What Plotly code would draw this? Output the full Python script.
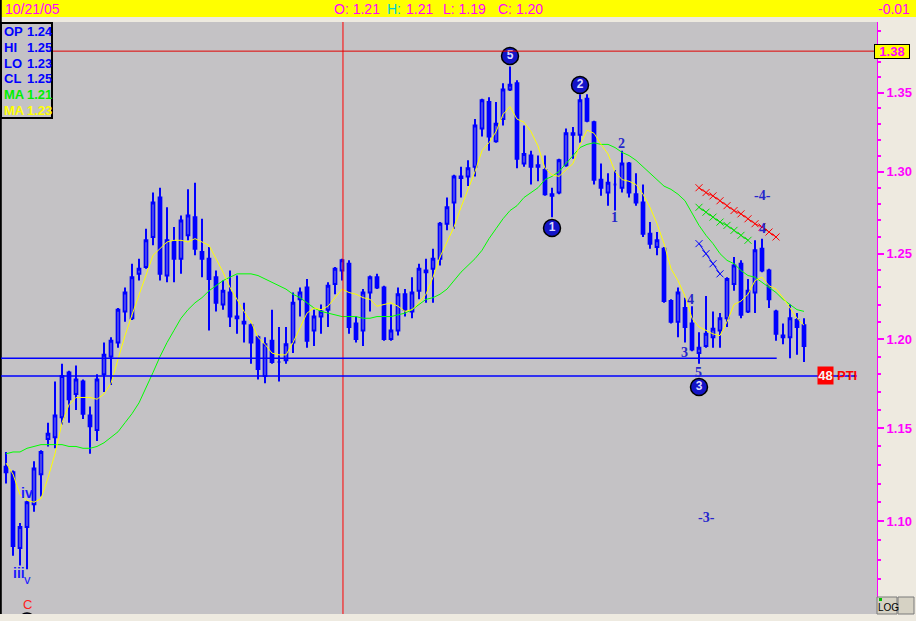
import math
import plotly.graph_objects as go

# ---------------- data ----------------
session_date = "10/21/05"

opens = [1.129, 1.126, 1.086, 1.097, 1.109, 1.125, 1.144, 1.145, 1.156, 1.181,
         1.169, 1.176, 1.157, 1.149, 1.180, 1.190, 1.198, 1.216, 1.212, 1.238,
         1.242, 1.260, 1.284, 1.237, 1.257, 1.247, 1.261, 1.272, 1.251, 1.247,
         1.236, 1.220, 1.227, 1.212, 1.210, 1.208, 1.201, 1.179, 1.199, 1.187,
         1.188, 1.198, 1.223, 1.230, 1.205, 1.213, 1.217, 1.232, 1.240, 1.244,
         1.209, 1.205, 1.227, 1.236, 1.230, 1.200, 1.205, 1.226, 1.216, 1.228,
         1.240, 1.241, 1.247, 1.268, 1.281, 1.296, 1.297, 1.303, 1.327, 1.344,
         1.319, 1.333, 1.352, 1.356, 1.305, 1.310, 1.304, 1.301, 1.285, 1.287,
         1.304, 1.323, 1.323, 1.346, 1.331, 1.295, 1.287, 1.292, 1.290, 1.305,
         1.286, 1.281, 1.262, 1.254, 1.253, 1.222, 1.210, 1.218, 1.209, 1.192,
         1.196, 1.201, 1.205, 1.212, 1.232, 1.244, 1.216, 1.227, 1.253, 1.240,
         1.216, 1.202, 1.201, 1.211, 1.208]

highs = [1.137, 1.127, 1.099, 1.111, 1.132, 1.138, 1.153, 1.176, 1.186, 1.182,
         1.185, 1.177, 1.162, 1.180, 1.198, 1.201, 1.218, 1.230, 1.244, 1.247,
         1.265, 1.287, 1.290, 1.278, 1.266, 1.273, 1.289, 1.293, 1.271, 1.254,
         1.240, 1.234, 1.240, 1.237, 1.221, 1.209, 1.202, 1.201, 1.217, 1.207,
         1.207, 1.227, 1.230, 1.235, 1.217, 1.220, 1.233, 1.242, 1.247, 1.246,
         1.213, 1.229, 1.237, 1.238, 1.231, 1.220, 1.230, 1.229, 1.236, 1.244,
         1.247, 1.253, 1.269, 1.284, 1.298, 1.303, 1.307, 1.333, 1.346, 1.347,
         1.344, 1.356, 1.367, 1.358, 1.329, 1.313, 1.310, 1.310, 1.290, 1.308,
         1.327, 1.328, 1.349, 1.349, 1.332, 1.305, 1.299, 1.301, 1.313, 1.306,
         1.299, 1.292, 1.269, 1.263, 1.254, 1.223, 1.230, 1.224, 1.219, 1.204,
         1.225, 1.216, 1.215, 1.236, 1.248, 1.246, 1.235, 1.258, 1.259, 1.241,
         1.217, 1.209, 1.220, 1.215, 1.212]

lows = [1.120, 1.082, 1.077, 1.075, 1.105, 1.113, 1.140, 1.139, 1.152, 1.153,
        1.160, 1.155, 1.136, 1.143, 1.170, 1.174, 1.195, 1.210, 1.211, 1.234,
        1.241, 1.255, 1.234, 1.233, 1.233, 1.238, 1.258, 1.249, 1.236, 1.205,
        1.216, 1.217, 1.207, 1.203, 1.198, 1.186, 1.177, 1.175, 1.186, 1.176,
        1.186, 1.192, 1.213, 1.195, 1.196, 1.203, 1.207, 1.226, 1.234, 1.203,
        1.198, 1.196, 1.216, 1.229, 1.199, 1.199, 1.202, 1.213, 1.212, 1.223,
        1.221, 1.221, 1.243, 1.264, 1.265, 1.284, 1.291, 1.297, 1.322, 1.313,
        1.318, 1.329, 1.351, 1.302, 1.303, 1.292, 1.294, 1.285, 1.272, 1.286,
        1.303, 1.308, 1.318, 1.331, 1.292, 1.285, 1.279, 1.276, 1.287, 1.284,
        1.279, 1.260, 1.253, 1.249, 1.221, 1.209, 1.201, 1.198, 1.193, 1.186,
        1.195, 1.195, 1.195, 1.207, 1.228, 1.212, 1.215, 1.215, 1.239, 1.218,
        1.199, 1.197, 1.189, 1.191, 1.187]

closes = [1.126, 1.087, 1.097, 1.110, 1.128, 1.137, 1.147, 1.157, 1.179, 1.166,
          1.177, 1.158, 1.151, 1.177, 1.191, 1.199, 1.217, 1.227, 1.236, 1.241,
          1.258, 1.281, 1.238, 1.258, 1.247, 1.270, 1.273, 1.253, 1.247, 1.235,
          1.221, 1.228, 1.213, 1.213, 1.209, 1.198, 1.183, 1.197, 1.187, 1.187,
          1.197, 1.221, 1.227, 1.199, 1.213, 1.216, 1.231, 1.241, 1.246, 1.207,
          1.200, 1.227, 1.236, 1.230, 1.200, 1.205, 1.226, 1.217, 1.227, 1.241,
          1.239, 1.247, 1.268, 1.278, 1.297, 1.297, 1.302, 1.329, 1.345, 1.322,
          1.330, 1.352, 1.355, 1.308, 1.311, 1.303, 1.303, 1.286, 1.286, 1.307,
          1.324, 1.324, 1.345, 1.332, 1.295, 1.290, 1.293, 1.292, 1.305, 1.287,
          1.281, 1.262, 1.256, 1.258, 1.222, 1.210, 1.227, 1.207, 1.194, 1.195,
          1.203, 1.206, 1.212, 1.235, 1.243, 1.214, 1.228, 1.252, 1.240, 1.223,
          1.203, 1.201, 1.212, 1.207, 1.196]

ma_fast = [1.131, 1.125, 1.114, 1.111, 1.110, 1.112, 1.123, 1.136, 1.153, 1.163,
           1.167, 1.167, 1.167, 1.166, 1.169, 1.175, 1.189, 1.202, 1.214, 1.226,
           1.238, 1.249, 1.253, 1.257, 1.258, 1.258, 1.257, 1.259, 1.257, 1.255,
           1.247, 1.239, 1.230, 1.223, 1.216, 1.210, 1.201, 1.197, 1.192, 1.191,
           1.191, 1.198, 1.206, 1.215, 1.218, 1.217, 1.219, 1.224, 1.229, 1.227,
           1.226, 1.224, 1.223, 1.219, 1.220, 1.221, 1.219, 1.216, 1.217, 1.221,
           1.226, 1.236, 1.248, 1.257, 1.266, 1.278, 1.289, 1.300, 1.313, 1.318,
           1.325, 1.336, 1.341, 1.333, 1.331, 1.325, 1.316, 1.302, 1.298, 1.297,
           1.301, 1.305, 1.317, 1.326, 1.324, 1.317, 1.311, 1.300, 1.295, 1.294,
           1.292, 1.286, 1.278, 1.268, 1.256, 1.241, 1.234, 1.225, 1.212, 1.207,
           1.205, 1.203, 1.202, 1.210, 1.220, 1.222, 1.226, 1.234, 1.236, 1.231,
           1.229, 1.224, 1.218, 1.212, 1.208]

ma_slow = [1.136, 1.137, 1.137, 1.139, 1.140, 1.141, 1.141, 1.141, 1.141, 1.140,
           1.140, 1.139, 1.139, 1.140, 1.142, 1.145, 1.148, 1.153, 1.158, 1.164,
           1.172, 1.181, 1.190, 1.198, 1.205, 1.212, 1.217, 1.221, 1.224, 1.228,
           1.231, 1.234, 1.236, 1.238, 1.238, 1.238, 1.237, 1.235, 1.233, 1.231,
           1.229, 1.226, 1.224, 1.221, 1.218, 1.216, 1.215, 1.214, 1.213, 1.213,
           1.213, 1.212, 1.212, 1.213, 1.213, 1.213, 1.214, 1.215, 1.217, 1.220,
           1.223, 1.224, 1.226, 1.229, 1.234, 1.239, 1.243, 1.247, 1.252, 1.259,
           1.265, 1.271, 1.276, 1.279, 1.284, 1.287, 1.290, 1.295, 1.297, 1.300,
           1.305, 1.310, 1.315, 1.317, 1.318, 1.317, 1.317, 1.315, 1.312, 1.310,
           1.307, 1.303, 1.299, 1.295, 1.291, 1.289, 1.286, 1.282, 1.274, 1.267,
           1.261, 1.256, 1.250, 1.246, 1.244, 1.240, 1.237, 1.236, 1.233, 1.230,
           1.227, 1.223, 1.220, 1.217, 1.216]

tick_values = [1.10, 1.15, 1.20, 1.25, 1.30, 1.35]
tick_labels = ["1.10", "1.15", "1.20", "1.25", "1.30", "1.35"]
minor_tick_values = [1.06, 1.07, 1.08, 1.09, 1.11, 1.12, 1.13, 1.14, 1.16, 1.17,
                     1.18, 1.19, 1.21, 1.22, 1.23, 1.24, 1.26, 1.27, 1.28, 1.29,
                     1.31, 1.32, 1.33, 1.34, 1.36, 1.37, 1.38, 1.39]

resistance_level = 1.377
support_upper = 1.189
support_lower = 1.179
cursor_index = 48

fan_red_idx = [99, 100, 101, 102, 103, 104, 105, 106, 107, 108, 109, 110]
fan_red_val = [1.290, 1.287, 1.285, 1.282, 1.279, 1.276, 1.274, 1.271, 1.268, 1.266, 1.263, 1.260]
fan_green_idx = [99, 100, 101, 102, 103, 104, 105, 106]
fan_green_val = [1.278, 1.275, 1.272, 1.269, 1.267, 1.264, 1.261, 1.258]
fan_blue_idx = [99, 100, 101, 102]
fan_blue_val = [1.256, 1.250, 1.244, 1.238]

bar_index = list(range(len(closes)))

# ---------------- geometry helpers ----------------
W, H = 916, 621
LM, RM, TM, BM = 1, 39, 22, 7
PW = W - LM - RM
PH = H - TM - BM
Y_TOP, Y_BOT = 1.3963, 1.0523
LT, LB = math.log10(Y_TOP), math.log10(Y_BOT)
X0 = -5 / 7
X1 = X0 + PW / 7


def xp(px):
    return (px - LM) / PW


def yp(py):
    return (H - BM - py) / PH


def price_at(py):
    return 10 ** (LT - (py - TM) / PH * (LT - LB))


def idx_at(px):
    return X0 + (px - LM) / 7


PLOT_BG = "#c4c2c5"
PAPER_BG = "#eeeae0"
BLUE = "#0000ff"
MAGENTA = "#ff00ff"
SANS = "Liberation Sans, Arial, sans-serif"
SERIF = "Liberation Serif, Times New Roman, serif"

fig = go.Figure()

fig.add_trace(go.Scatter(x=bar_index, y=ma_slow, mode="lines",
                         line=dict(color="#00ff00", width=1), hoverinfo="skip"))
fig.add_trace(go.Scatter(x=bar_index, y=ma_fast, mode="lines",
                         line=dict(color="#ffff00", width=1), hoverinfo="skip"))

fig.add_trace(go.Candlestick(
    x=bar_index, open=opens, high=highs, low=lows, close=closes,
    increasing=dict(line=dict(color=BLUE, width=2), fillcolor=PLOT_BG),
    decreasing=dict(line=dict(color=BLUE, width=2), fillcolor=BLUE),
    whiskerwidth=0, hoverinfo="skip"))

for xs, ys, col in [(fan_red_idx, fan_red_val, "#ff0000"),
                    (fan_green_idx, fan_green_val, "#00e000"),
                    (fan_blue_idx, fan_blue_val, "#0000ff")]:
    fig.add_trace(go.Scatter(x=xs, y=ys, mode="lines+markers",
                             line=dict(color=col, width=1),
                             marker=dict(symbol="x-thin", size=7, color=col,
                                         line=dict(color=col, width=1)),
                             hoverinfo="skip"))

# wave circles
fig.add_trace(go.Scatter(
    x=[idx_at(510), idx_at(580), idx_at(552), idx_at(699)],
    y=[price_at(56), price_at(85), price_at(228), price_at(387)],
    mode="markers+text", text=["5", "2", "1", "3"], textposition="middle center",
    marker=dict(size=17, color="#1414c8", line=dict(color="black", width=1.5)),
    textfont=dict(color="#dcdcff", size=12, family=SANS, weight="bold"),
    hoverinfo="skip"))
# partially hidden marker under "C"
fig.add_trace(go.Scatter(
    x=[idx_at(27)], y=[price_at(621)], mode="markers",
    marker=dict(size=16, color="#1414c8", line=dict(color="black", width=1.5)),
    cliponaxis=True, hoverinfo="skip"))

shapes = [
    # header bar
    dict(type="rect", xref="paper", yref="paper", x0=xp(0), x1=xp(W), y0=yp(17), y1=yp(0),
         fillcolor="#ffff00", line=dict(width=0), layer="above"),
    dict(type="line", xref="paper", yref="paper", x0=xp(0.8), x1=xp(0.8), y0=yp(614), y1=yp(0),
         line=dict(color="black", width=2), layer="above"),
    # cursor and level lines
    dict(type="line", xref="x", yref="paper", x0=cursor_index + 0.14, x1=cursor_index + 0.14, y0=0, y1=1,
         line=dict(color="#ff0000", width=1), layer="above"),
    dict(type="line", xref="paper", yref="y", x0=0, x1=1, y0=resistance_level, y1=resistance_level,
         line=dict(color="#e00000", width=1), layer="above"),
    dict(type="line", xref="x", yref="y", x0=X0, x1=110.1, y0=support_upper, y1=support_upper,
         line=dict(color=BLUE, width=1.5), layer="above"),
    dict(type="line", xref="paper", yref="y", x0=0, x1=xp(857), y0=support_lower, y1=support_lower,
         line=dict(color=BLUE, width=1.5), layer="above"),
    # info box
    dict(type="rect", xref="paper", yref="paper", x0=xp(1), x1=xp(52), y0=yp(118), y1=yp(23),
         fillcolor=PLOT_BG, line=dict(color="black", width=2), layer="above"),
    # LOG buttons
    dict(type="rect", xref="paper", yref="paper", x0=xp(877), x1=xp(897), y0=yp(614), y1=yp(597),
         fillcolor="#d6d2c4", line=dict(color="#7a7a7a", width=1), layer="above"),
    dict(type="rect", xref="paper", yref="paper", x0=xp(879), x1=xp(882), y0=yp(601), y1=yp(598),
         fillcolor="#00c000", line=dict(width=0), layer="above"),
    dict(type="rect", xref="paper", yref="paper", x0=xp(898), x1=xp(914), y0=yp(614), y1=yp(597),
         fillcolor="#d6d2c4", line=dict(color="#7a7a7a", width=1), layer="above"),
]

annotations = []


def label(text, px, py, color, size=13, family=SANS, bold=True, xanchor="center", **extra):
    d = dict(text=text, x=xp(px), y=yp(py), xref="paper", yref="paper",
             xanchor=xanchor, yanchor="middle", showarrow=False,
             font=dict(color=color, size=size, family=family,
                       weight="bold" if bold else "normal"))
    d.update(extra)
    annotations.append(d)


# header
last = len(closes) - 1
label(session_date, 3, 9, MAGENTA, size=14, bold=False, xanchor="left")
label(f"O: {opens[last]:.2f}", 332, 9, MAGENTA, size=14, bold=False, xanchor="left")
label("H:", 385, 9, "#00d0d0", size=14, bold=False, xanchor="left")
label(f"{highs[last]:.2f}", 404, 9, MAGENTA, size=14, bold=False, xanchor="left")
label(f"L: {lows[last]:.2f}", 441, 9, MAGENTA, size=14, bold=False, xanchor="left")
label(f"C: {closes[last]:.2f}", 496, 9, MAGENTA, size=14, bold=False, xanchor="left")
label(f"{closes[last] - closes[last - 1]:.2f}", 912, 9, MAGENTA, size=14, bold=False, xanchor="right")

# info box
c = cursor_index
rows = [("OP", opens[c], BLUE), ("HI", highs[c], BLUE), ("LO", lows[c], BLUE),
        ("CL", closes[c], BLUE), ("MA", ma_slow[c], "#00ee00"), ("MA", ma_fast[c], "#ffff00")]
for k, (name, val, col) in enumerate(rows):
    yy = 32 + k * 15.6
    label(name, 2, yy, col, xanchor="left")
    label(f"{val:.2f}", 25, yy, col, xanchor="left")

# wave labels
label("iv", 27, 493, "#1a1aff", size=14)
label("iii", 19, 573, "#1a1aff", size=14)
label("v", 27, 579, "#1a1aff", size=13, bold=False)
label("C", 27, 604, "#ff2020", size=13, bold=False)
for t, px, py in [("2", 621, 143), ("1", 614, 218), ("4", 690, 299), ("3", 684, 352),
                  ("5", 698, 372), ("-4-", 762, 195), ("4", 762, 228), ("-3-", 706, 517)]:
    label(t, px, py, "#2626cc", size=14, family=SERIF)

# level labels
label(f"{resistance_level:.2f}", 892, 51, MAGENTA, size=13, bgcolor="#ffff00",
      bordercolor="black", borderwidth=1, width=34, height=13, borderpad=0)
label(str(cursor_index), 825, 375, "#f4f4f4", size=13, bgcolor="#ff0000",
      width=15, height=17, borderpad=0)
label("PTI", 835, 375, "#ff0000", size=13, xanchor="left")
label("LOG", 888, 607, "#000000", size=10, bold=False)

fig.update_layout(
    width=W, height=H,
    margin=dict(l=LM, r=RM, t=TM, b=BM, pad=0),
    paper_bgcolor=PAPER_BG, plot_bgcolor=PLOT_BG,
    showlegend=False, boxgap=0.45,
    shapes=shapes, annotations=annotations,
    xaxis=dict(range=[X0, X1], showgrid=False, zeroline=False, showticklabels=False,
               ticks="", showline=False, rangeslider=dict(visible=False), fixedrange=True),
    yaxis=dict(type="log", range=[LB, LT], side="right",
               showgrid=False, zeroline=False, showline=True, linecolor=MAGENTA, linewidth=1,
               tickmode="array", tickvals=tick_values, ticktext=tick_labels,
               ticks="outside", ticklen=6, tickwidth=2, tickcolor=MAGENTA,
               ticklabelstandoff=0,
               tickfont=dict(color=MAGENTA, size=13, family=SANS, weight="bold"),
               minor=dict(tickmode="array", tickvals=minor_tick_values, ticks="outside",
                          ticklen=3, tickwidth=2, tickcolor=MAGENTA, showgrid=False),
               fixedrange=True),
)

fig.write_html("out.html", config={"displayModeBar": False},
               post_script="document.body.style.margin='0';document.body.style.overflow='hidden';")
